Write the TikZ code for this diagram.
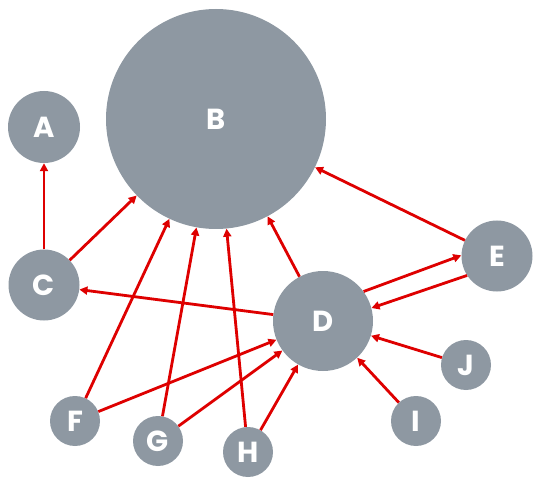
\documentclass[tikz,border=0pt]{standalone}
\usepackage{fontspec}
\usepackage{xcolor}
\usepackage{tikz}
\usetikzlibrary{arrows.meta}
\setmainfont{Poppins}
\definecolor{figGray}{RGB}{142,152,162}
\definecolor{figRed}{RGB}{222,0,0}
\tikzset{
  dot/.style={circle, fill=figGray, inner sep=0pt, text=white,
    font=\fontsize{29}{30}\selectfont\bfseries},
  link/.style={-{Triangle[length=8pt, width=8pt]}, line width=2.8pt, figRed}}

\begin{document}
\begin{tikzpicture}[x=1pt, y=-1pt]
\useasboundingbox (0,0) rectangle (542,487);
% ===== big nodes =====
\node[dot, minimum size=220pt] (B) at (216,119) {B};
\node[dot, minimum size=72pt] (A) at (44,127) {A};
\node[dot, minimum size=71pt] (C) at (44,285) {C};
\node[dot, minimum size=100pt] (D) at (323,321) {D};
\node[dot, minimum size=71pt] (E) at (497,256) {E};
% ===== small nodes along the bottom =====
\foreach \name/\x/\y in {F/75/421, G/158/441, H/248/452, I/416/421, J/466/365}{
  \node[dot, minimum size=50pt] (\name) at (\x,\y) {\name};
}
% ===== links, centre to centre =====
\foreach \s/\t in {C/A, C/B, D/C, D/B, E/B, F/B, F/D, G/B, G/D, H/B, H/D, I/D, J/D}{
  \draw[link] (\s) -- (\t);
}
% D and E point both ways: two parallel links
\draw[link] (D.36) -- (E.179);
\draw[link] (E.213) -- (D.15);
\end{tikzpicture}
\end{document}
